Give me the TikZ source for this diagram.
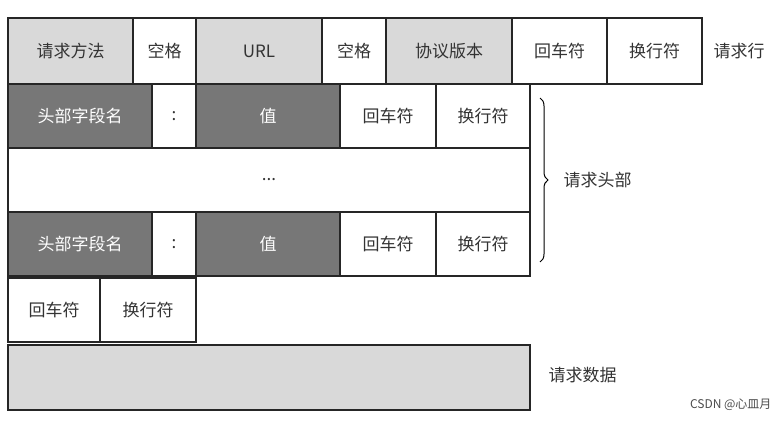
\documentclass[tikz,border=0pt]{standalone}
\usepackage{fontspec}
\setmainfont{Noto Sans CJK SC}
\usetikzlibrary{decorations.pathreplacing}
\definecolor{lg}{HTML}{D9D9D9}
\definecolor{dg}{HTML}{777777}
\begin{document}
\begin{tikzpicture}[x=1pt,y=-1pt,
 cell/.style={draw=black!85,line width=1.2pt,fill=white},
 lcell/.style={cell,fill=lg},
 dcell/.style={cell,fill=dg},
 txt/.style={font=\fontsize{17}{20}\selectfont,text=black!80},
 wtxt/.style={font=\fontsize{17}{20}\selectfont,text=white}]
\useasboundingbox (0,0) rectangle (783,424);
\newcommand{\cellbox}[7]{\path[#1] (#2,#3) rectangle (#4,#5); \node[#6] (#7) at ({(#2+#4)/2},{(#3+#5)/2})}
% row 1
\cellbox{lcell}{8}{18}{133}{84}{txt}{a1} {请求方法};
\cellbox{cell}{133}{18}{196}{84}{txt}{a2} {空格};
\cellbox{lcell}{196}{18}{322}{84}{txt}{a3} {URL};
\cellbox{cell}{322}{18}{386}{84}{txt}{a4} {空格};
\cellbox{lcell}{386}{18}{512}{84}{txt}{a5} {协议版本};
\cellbox{cell}{512}{18}{607}{84}{txt}{a6} {回车符};
\cellbox{cell}{607}{18}{702}{84}{txt}{a7} {换行符};
\node[txt,anchor=west] (l1) at (710,51) {请求行};
% row 2
\cellbox{dcell}{8}{84}{152}{148}{wtxt}{b1} {头部字段名};
\cellbox{cell}{152}{84}{196}{148}{txt}{b2} {:};
\cellbox{dcell}{196}{84}{340}{148}{wtxt}{b3} {值};
\cellbox{cell}{340}{84}{436}{148}{txt}{b4} {回车符};
\cellbox{cell}{436}{84}{530}{148}{txt}{b5} {换行符};
% row 3
\cellbox{cell}{8}{148}{530}{212}{txt}{c1} {...};
% row 4
\cellbox{dcell}{8}{212}{152}{276}{wtxt}{d1} {头部字段名};
\cellbox{cell}{152}{212}{196}{276}{txt}{d2} {:};
\cellbox{dcell}{196}{212}{340}{276}{wtxt}{d3} {值};
\cellbox{cell}{340}{212}{436}{276}{txt}{d4} {回车符};
\cellbox{cell}{436}{212}{530}{276}{txt}{d5} {换行符};
% row 5
\cellbox{cell}{8}{278}{100}{342}{txt}{e1} {回车符};
\cellbox{cell}{100}{278}{196}{342}{txt}{e2} {换行符};
% row 6
\cellbox{lcell}{8}{345}{530}{410}{txt}{f1} {};
\node[txt,anchor=west] (l3) at (545,375) {请求数据};
% brace
\coordinate (bt) at (540,98);
\coordinate (bb) at (540,262);
\draw[line width=1pt,decorate,decoration={brace,amplitude=8pt}] (bt) -- (bb);
\node[txt,anchor=west] (l2) at (560,180) {请求头部};
\node[font=\fontsize{12}{14}\selectfont,text=black!70,anchor=east] (wm) at (775,405) {CSDN @心皿月};
\end{tikzpicture}
\end{document}
